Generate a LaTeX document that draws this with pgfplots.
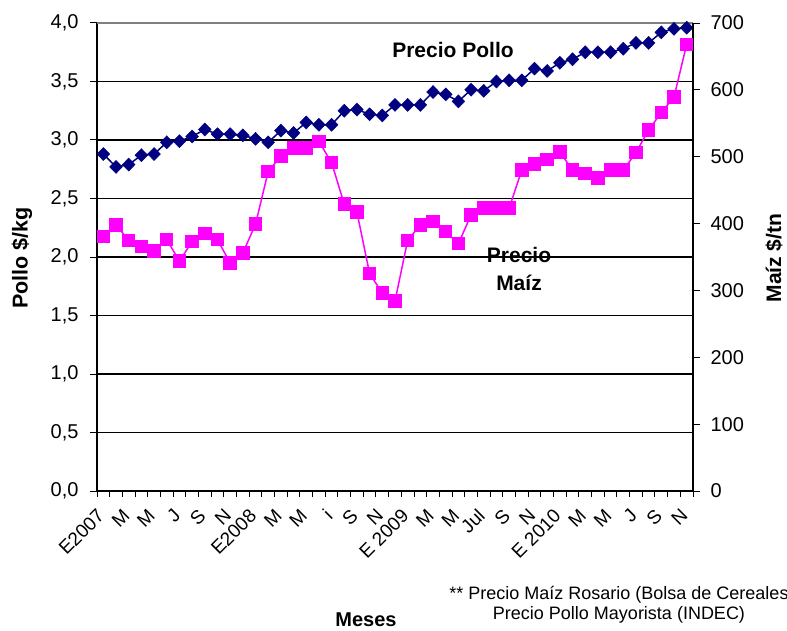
\documentclass[border=0pt]{standalone}
\usepackage{pgfplots}
\pgfplotsset{compat=1.18}
\usepackage{fontspec}
\setmainfont{Liberation Sans}
\definecolor{pollo}{RGB}{0,0,128}
\definecolor{maiz}{RGB}{255,0,255}
\pgfplotstableread{
x y
0 2.88
1 2.77
2 2.79
3 2.87
4 2.88
5 2.98
6 2.99
7 3.03
8 3.09
9 3.05
10 3.05
11 3.04
12 3.01
13 2.98
14 3.08
15 3.06
16 3.15
17 3.13
18 3.13
19 3.25
20 3.26
21 3.22
22 3.21
23 3.30
24 3.30
25 3.30
26 3.41
27 3.39
28 3.33
29 3.43
30 3.42
31 3.50
32 3.51
33 3.51
34 3.61
35 3.59
36 3.66
37 3.69
38 3.75
39 3.75
40 3.75
41 3.78
42 3.83
43 3.83
44 3.92
45 3.95
46 3.96
}\pollotable
\pgfplotstableread{
x y
0 381
1 398
2 375
3 366
4 359
5 376
6 344
7 373
8 385
9 376
10 341
11 356
12 399
13 478
14 501
15 513
16 513
17 523
18 491
19 429
20 417
21 325
22 296
23 284
24 375
25 398
26 403
27 388
28 370
29 413
30 423
31 423
32 423
33 480
34 489
35 496
36 507
37 480
38 475
39 468
40 480
41 480
42 506
43 540
44 566
45 589
46 668
}\maiztable
\begin{document}
\begin{tikzpicture}[x=1pt,y=1pt]
\path[use as bounding box] (0,0) rectangle (787,630);
\begin{axis}[
  at={(97pt,139pt)}, anchor=south west,
  scale only axis, width=596pt, height=468pt,
  xmin=-0.5, xmax=46.5, ymin=0, ymax=4,
  axis y line*=left, axis x line*=bottom,
  axis line style={line width=1.6pt, -},
  /pgf/number format/assume math mode=true,
  ytick={0,0.5,1,1.5,2,2.5,3,3.5,4},
  ymajorgrids, major grid style={black, line width=1.1pt},
  yticklabel style={xshift=-8pt, /pgf/number format/.cd, fixed, fixed zerofill, precision=1, use comma},
  ticklabel style={font=\fontsize{20}{24}\selectfont},
  tick align=outside,
  major tick length=7pt, minor tick length=6pt,
  every tick/.style={black, line width=1pt},
  xtick={0,2,...,46},
  xticklabels={E2007,M,M,J,S,N,E2008,M,M,i,S,N,E 2009,M,M,Jul,S,N,E 2010,M,M,J,S,N},
  major x tick style={draw=none},
  minor xtick={-0.5,0.5,...,46.5},
  xticklabel style={rotate=45, anchor=east, font=\fontsize{19}{22}\selectfont},
  xticklabel shift=12pt,
  clip=false,
]
\draw[gray, line width=1.2pt] (axis cs:-0.5,4) -- (axis cs:46.5,4);
\addplot[color=pollo, line width=1.5pt, mark=diamond*, mark size=6.5pt,
  mark options={xscale=1.3, fill=pollo, draw=pollo, line width=0.5pt}] table[x=x,y=y] {\pollotable};
\end{axis}
\begin{axis}[
  at={(97pt,139pt)}, anchor=south west,
  scale only axis, width=596pt, height=468pt,
  xmin=-0.5, xmax=46.5, ymin=0, ymax=700,
  axis y line*=right, axis x line=none,
  axis line style={line width=1.6pt, -},
  /pgf/number format/assume math mode=true,
  ytick={0,100,200,300,400,500,600,700},
  ticklabel style={font=\fontsize{20}{24}\selectfont},
  yticklabel style={xshift=7pt},
  tick align=outside,
  major tick length=7pt,
  every tick/.style={black, line width=1pt},
  clip=false,
]
\addplot[color=maiz, line width=1.5pt, mark=square*, mark size=6pt,
  mark options={fill=maiz, draw=maiz}] table[x=x,y=y] {\maiztable};
\end{axis}
\node[rotate=90, font=\bfseries\fontsize{21.5}{24}\selectfont] at (22,372) {Pollo \$/kg};
\node[rotate=90, font=\bfseries\fontsize{21}{24}\selectfont] at (774,372) {Maíz \$/tn};
\node[font=\bfseries\fontsize{21}{24}\selectfont] at (453,580) {Precio Pollo};
\node[font=\bfseries\fontsize{21}{28}\selectfont, align=center] at (519,361) {Precio\\Maíz};
\node[font=\bfseries\fontsize{20}{24}\selectfont] at (366,10) {Meses};
\node[font=\fontsize{18}{20}\selectfont, align=center, anchor=north] at (619,47) {** Precio Maíz Rosario (Bolsa de Cereales\\Precio Pollo Mayorista (INDEC)};
\end{tikzpicture}
\end{document}
